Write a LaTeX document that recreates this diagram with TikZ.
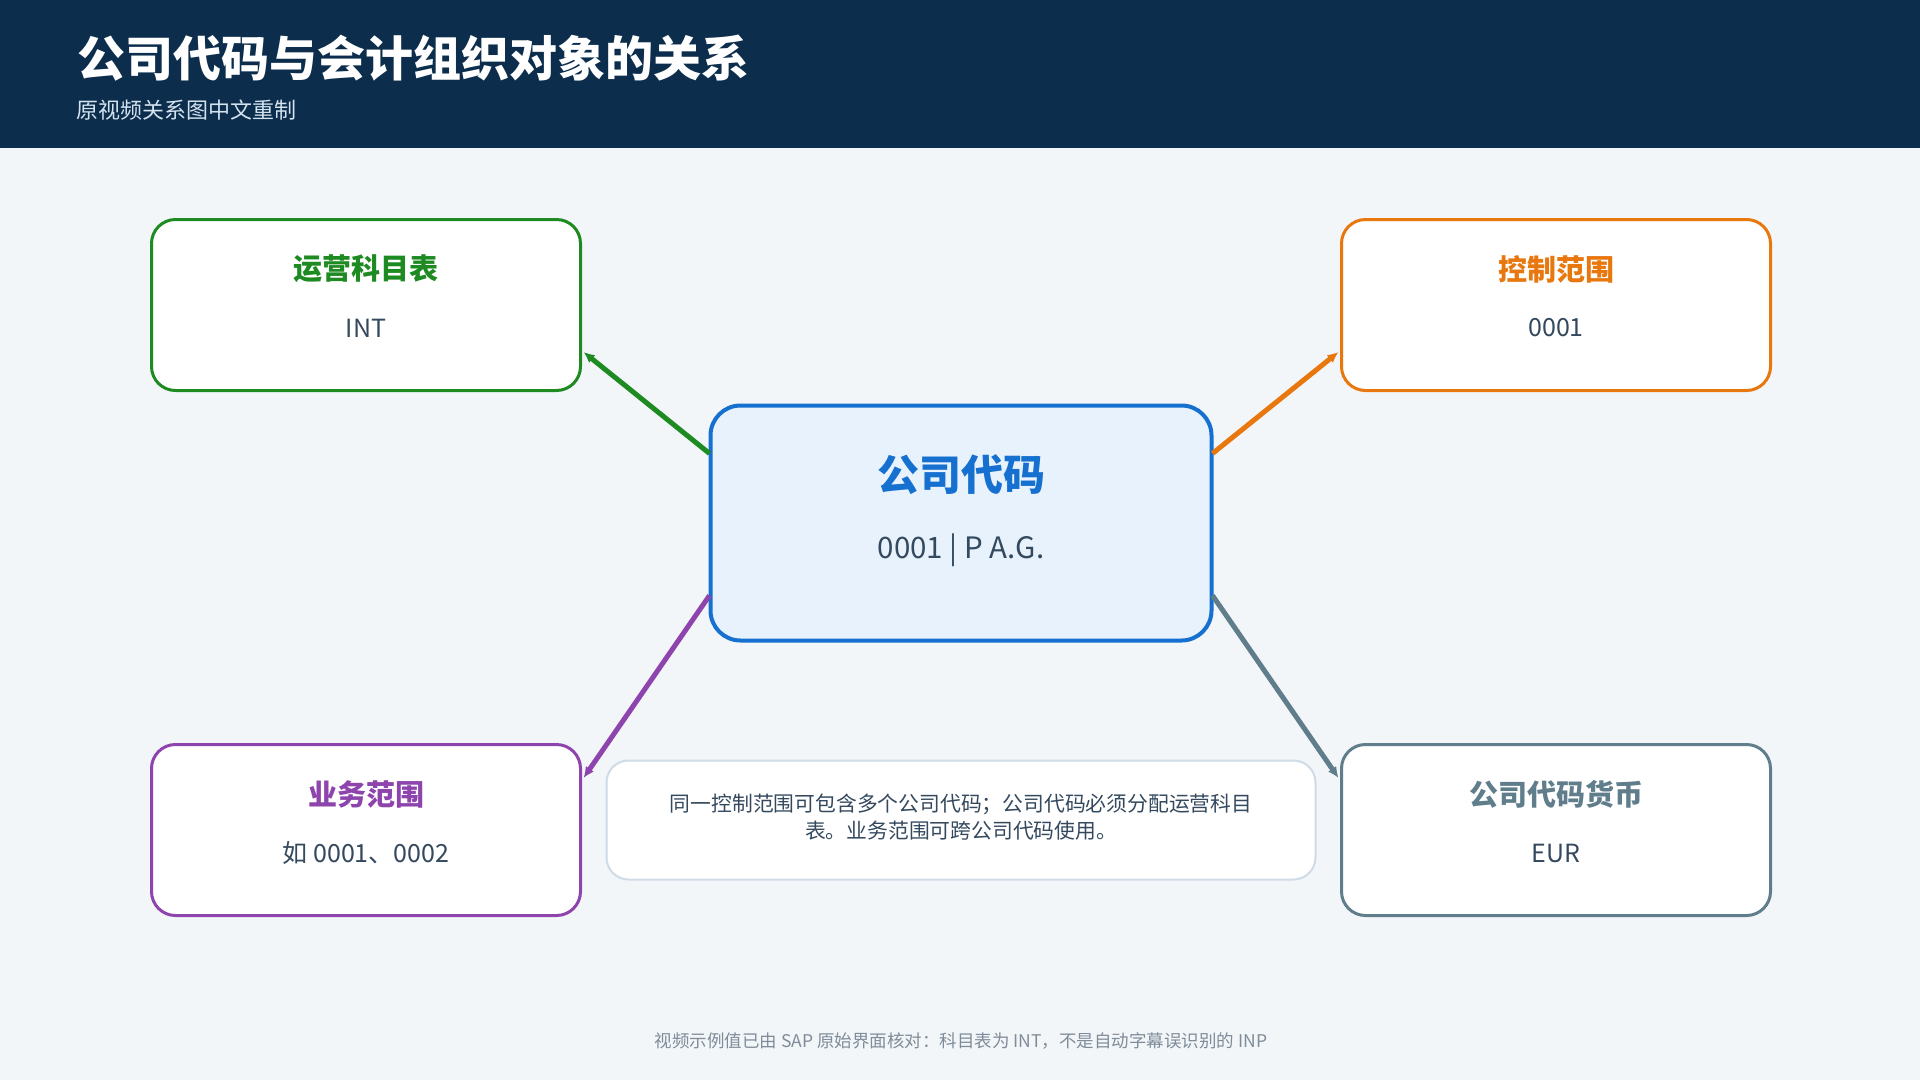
\documentclass[tikz,border=0pt]{standalone}
\usepackage{fontspec}
\setmainfont{Noto Sans CJK SC}
\usetikzlibrary{arrows.meta,calc}
\definecolor{bgc}{HTML}{F3F6F9}
\definecolor{headc}{HTML}{0C2D4B}
\definecolor{subc}{HTML}{D4E3F0}
\definecolor{cgreen}{HTML}{1E8B22}
\definecolor{corange}{HTML}{E8770E}
\definecolor{cpurple}{HTML}{8E44AD}
\definecolor{cslate}{HTML}{607D8B}
\definecolor{cblue}{HTML}{1570D0}
\definecolor{cfill}{HTML}{E8F2FC}
\definecolor{noteb}{HTML}{CFDBE6}
\definecolor{textd}{HTML}{34495E}
\definecolor{footc}{HTML}{7F8C99}
\tikzset{
  box/.style={draw, line width=3pt, fill=white, rounded corners=24pt,
    minimum width=429pt, minimum height=171pt, inner sep=0pt},
  centerbox/.style={draw=cblue, line width=4pt, fill=cfill, rounded corners=30pt,
    minimum width=501pt, minimum height=235pt, inner sep=0pt},
  notebox/.style={draw=noteb, line width=2pt, fill=white, rounded corners=22pt,
    minimum width=709pt, minimum height=119pt, inner sep=0pt},
  boxtitle/.style={font=\fontsize{29}{34}\selectfont\bfseries, inner sep=0pt},
  boxval/.style={font=\fontsize{25}{30}\selectfont, text=textd, inner sep=0pt},
  link/.style={line width=5pt, -{Latex[length=11pt,width=10pt]}},
}
\begin{document}
\begin{tikzpicture}[x=1pt,y=-1pt]
\useasboundingbox (0,0) rectangle (1920,1080);
\fill[bgc] (0,0) rectangle (1920,1080);
\fill[headc] (0,0) rectangle (1920,148);
\node[anchor=west, inner sep=0pt, text=white, font=\fontsize{48}{58}\selectfont\bfseries] (title) at (77,58) {公司代码与会计组织对象的关系};
\node[anchor=west, inner sep=0pt, text=subc, font=\fontsize{22}{27}\selectfont] (subtitle) at (76,110) {原视频关系图中文重制};

% boxes
\node[box, draw=cgreen] (coa) at (366,305) {};
\node[boxtitle, text=cgreen] (coat) at (366,269) {运营科目表};
\node[boxval] (coav) at (366,328) {INT};

\node[box, draw=corange] (ca) at (1556,305) {};
\node[boxtitle, text=corange] (cat) at (1556,269) {控制范围};
\node[boxval] (cav) at (1556,328) {0001};

\node[box, draw=cpurple] (ba) at (366,830) {};
\node[boxtitle, text=cpurple] (bat) at (366,794) {业务范围};
\node[boxval] (bav) at (366,853) {如 0001、0002};

\node[box, draw=cslate] (cur) at (1556,830) {};
\node[boxtitle, text=cslate] (curt) at (1556,794) {公司代码货币};
\node[boxval] (curv) at (1556,853) {EUR};

\node[centerbox] (cc) at (961,523) {};
\node[inner sep=0pt, text=cblue, font=\fontsize{42}{50}\selectfont\bfseries] (cct) at (961,475) {公司代码};
\node[inner sep=0pt, text=textd, font=\fontsize{29.5}{34}\selectfont] (ccv) at (961,550) {0001 | P A.G.};

\node[notebox] (note) at (961,820) {};
\node[inner sep=0pt, text=textd, align=center, font=\fontsize{20.8}{27}\selectfont] (notet) at (961,817) {同一控制范围可包含多个公司代码；公司代码必须分配运营科目\\表。业务范围可跨公司代码使用。};

\node[inner sep=0pt, text=footc, font=\fontsize{17.5}{20}\selectfont] (foot) at (961,1041) {视频示例值已由 SAP 原始界面核对：科目表为 INT，不是自动字幕误识别的 INP};

% connectors
\draw[link, cgreen] ($(cc.north west)+(1,50)$) -- ($(coa.south east)+(1.5,-40)$);
\draw[link, corange] ($(cc.north east)+(-1,50)$) -- ($(ca.south west)+(-1.5,-40)$);
\draw[link, cpurple] ($(cc.south west)+(1,-47)$) -- ($(ba.north east)+(1.5,35)$);
\draw[link, cslate] ($(cc.south east)+(-1,-47)$) -- ($(cur.north west)+(-1.5,35)$);
\end{tikzpicture}
\end{document}
